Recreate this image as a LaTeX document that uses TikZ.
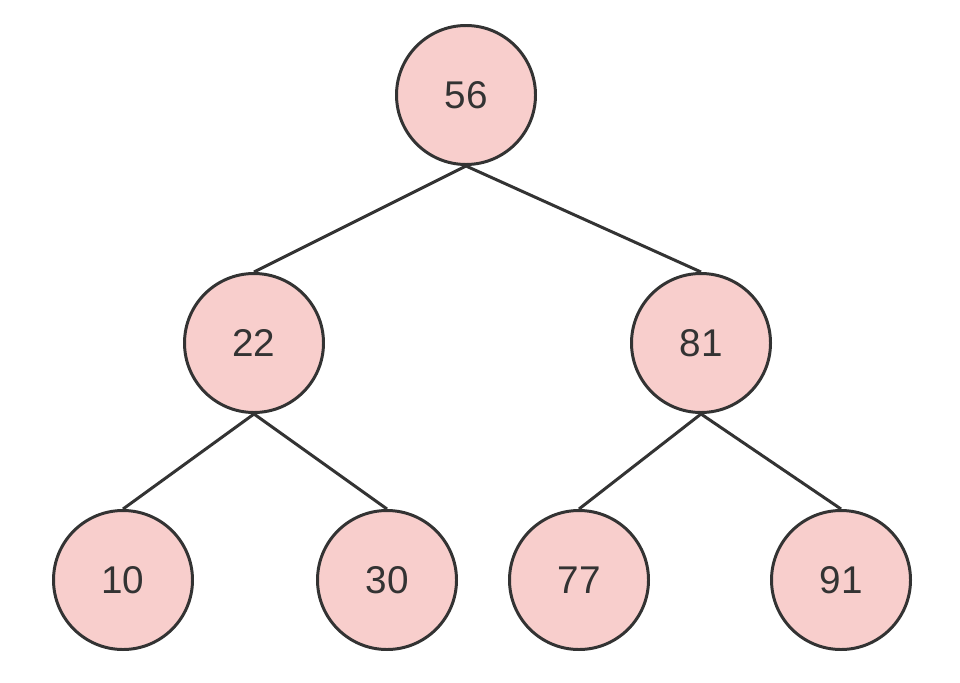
\documentclass[tikz,border=0pt]{standalone}
\usepackage{fontspec}
\setmainfont{Liberation Sans}
\definecolor{keyfill}{HTML}{F8CECC}
\definecolor{keyline}{HTML}{333333}

\begin{document}
\begin{tikzpicture}[every node/.style={circle,draw=keyline,fill=keyfill,line width=1.7pt,
    minimum size=2.78cm,inner sep=0pt,text=keyline,font=\fontsize{22}{26}\selectfont}]
  \useasboundingbox (0,0) rectangle (19.2,13.64);
  \node (k56) at (9.32,11.74) {56};
  \node (k22) at (5.08,6.78) {22};
  \node (k81) at (14.02,6.78) {81};
  \node (k10) at (2.46,2.04) {10};
  \node (k30) at (7.74,2.04) {30};
  \node (k77) at (11.58,2.04) {77};
  \node (k91) at (16.82,2.04) {91};

  \path[draw=keyline,line width=1.7pt]
    (k56.south) edge (k22.north)
                edge (k81.north)
    (k22.south) edge (k10.north)
                edge (k30.north)
    (k81.south) edge (k77.north)
                edge (k91.north);

\end{tikzpicture}
\end{document}
